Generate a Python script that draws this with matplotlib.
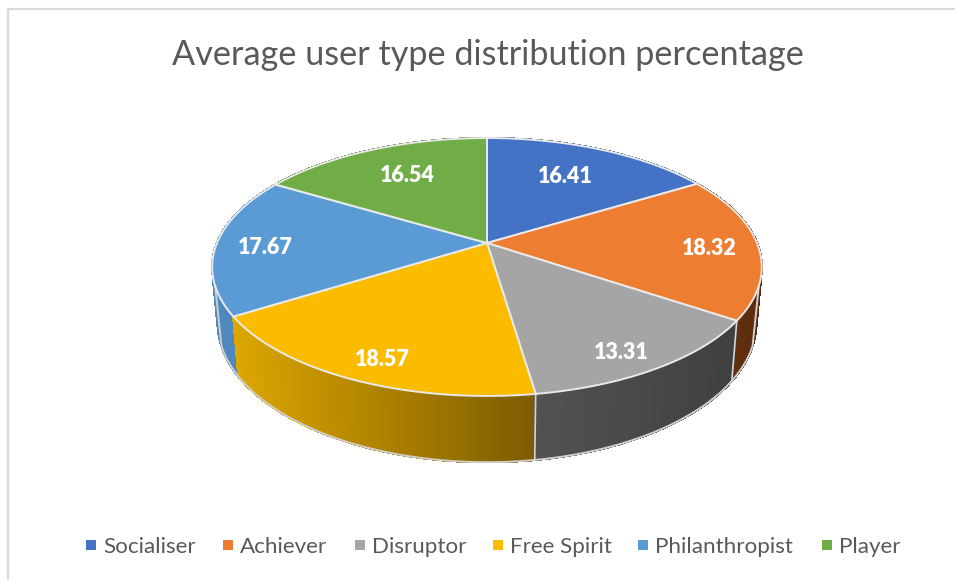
import numpy as np
import matplotlib
matplotlib.use('Agg')
import matplotlib.pyplot as plt
from matplotlib.colors import to_rgb

title = 'Average user type distribution percentage'
categories = ['Socialiser', 'Achiever', 'Disruptor', 'Free Spirit', 'Philanthropist', 'Player']
values = [16.41, 18.32, 13.31, 18.57, 17.67, 16.54]
top_colors = ['#4472C4', '#ED7D31', '#A5A5A5', '#FBBC00', '#5B9BD5', '#70AD47']
# side wall colour at the left and right end of each slice
wall_left = ['#2F5597', '#6B3511', '#525252', '#DDA600', '#4F8ABF', '#4E7A32']
wall_right = ['#2F5597', '#5A2C0D', '#404040', '#7D5C00', '#4A80B2', '#4E7A32']

label_r = [0.70, 0.83, 0.84, 0.84, 0.81, 0.66]
label_dx = [-5, -2, -5, 6, -3, 0]
label_dy = [2, 3, 8, 6, 3, -3]
legend_x = [91, 228, 360, 498, 643, 827]

CX, CY = 487, 243
B, A, P = 270, 124.5, 0.186
DEPTH, SX, SY = 54, 0.98, 1.08


def top_xy(theta, r=1.0):
    x, y = r * np.sin(theta), r * np.cos(theta)
    w = 1 + P * y
    return CX + B * x / w, CY - A * y / w


def bottom_xy(theta):
    x, y = np.sin(theta), np.cos(theta)
    w = 1 + P * y
    return CX + SX * B * x / w, CY + DEPTH - SY * A * y / w


plt.rcParams['font.family'] = ['Lato', 'DejaVu Sans']
fig = plt.figure(figsize=(9.55, 5.8), dpi=100)
ax = fig.add_axes([0, 0, 1, 1])
ax.set_xlim(0, 955)
ax.set_ylim(580, 0)
ax.axis('off')

# chart frame, only left and top are in the crop
ax.plot([7.5, 7.5, 955], [580, 9, 9], color='#D9D9D9', lw=1.6, zorder=1)

edges = np.cumsum([0] + values) / sum(values) * 2 * np.pi

# side walls, back slices first
for i in [5, 0, 4, 1, 3, 2]:
    th = np.linspace(edges[i], edges[i + 1], 90)
    xt, yt = top_xy(th)
    xb, yb = bottom_xy(th)
    c0, c1 = np.array(to_rgb(wall_left[i])), np.array(to_rgb(wall_right[i]))
    for j in range(len(th) - 1):
        # shade runs along the screen, th runs right to left in the front
        f = (xt[j] - xt.min()) / max(xt.max() - xt.min(), 1)
        col = c0 + (c1 - c0) * f
        ax.fill([xt[j], xt[j + 1], xb[j + 1], xb[j]], [yt[j], yt[j + 1], yb[j + 1], yb[j]],
                color=col, lw=1.0, antialiased=False, zorder=2)

# outer edge of the walls
th = np.radians(np.linspace(110, 250, 300))
xb, yb = bottom_xy(th)
xl, yl = top_xy(np.radians(262))
xr, yr = top_xy(np.radians(98))
ax.plot(np.r_[xr, xb, xl], np.r_[yr, yb, yl], color='#CFCFCF', lw=1.4, zorder=3)
for e in edges[1:4]:
    xt, yt = top_xy(e)
    xb, yb = bottom_xy(e)
    ax.plot([xt, xb], [yt, yb], color='#D5D5D5', lw=1.2, zorder=3)

# top face
for i in range(len(values)):
    th = np.linspace(edges[i], edges[i + 1], 120)
    xt, yt = top_xy(th)
    ax.fill(np.r_[CX, xt], np.r_[CY, yt], facecolor=top_colors[i], edgecolor='#E9E9E9',
            lw=1.4, joinstyle='round', zorder=4)

# data labels
for i in range(len(values)):
    mid = (edges[i] + edges[i + 1]) / 2
    lx, ly = top_xy(mid, label_r[i])
    ax.text(lx + label_dx[i], ly + label_dy[i], '%.2f' % values[i], color='white', fontsize=15.5,
            fontweight=800, ha='center', va='center', zorder=5)

ax.text(488, 55, title, color='#595959', fontsize=24.7, ha='center', va='center', zorder=5)

# legend
for i in range(len(categories)):
    ax.scatter(legend_x[i], 545, marker='s', s=46, color=top_colors[i], lw=0, zorder=5)
    ax.text(legend_x[i] + 12, 547, categories[i], color='#595959', fontsize=16.1,
            ha='left', va='center', zorder=5)

plt.savefig('out.png', dpi=100)
